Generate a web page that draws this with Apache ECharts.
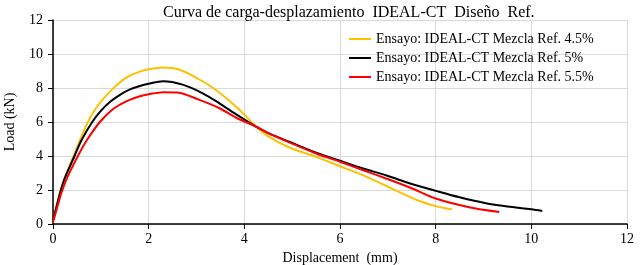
<!DOCTYPE html>
<html>
<head>
<meta charset="utf-8">
<script src="https://cdn.jsdelivr.net/npm/echarts@6/dist/echarts.min.js"></script>
<style>html,body{margin:0;padding:0;background:#fff;}#c{width:640px;height:265px;}</style>
</head>
<body>
<div id="c"></div>
<script>
var titleText = 'Curva de carga-desplazamiento  IDEAL-CT  Diseño  Ref.';
var xName = 'Displacement  (mm)';
var yName = 'Load (kN)';
var seriesNames = ['Ensayo: IDEAL-CT Mezcla Ref. 4.5%', 'Ensayo: IDEAL-CT Mezcla Ref. 5%', 'Ensayo: IDEAL-CT Mezcla Ref. 5.5%'];
var seriesColors = ['#FFC000', '#000000', '#FF0000'];

var ref45 = [[0,0.2],[0.04,0.65],[0.08,1.1],[0.12,1.55],[0.16,1.95],[0.22,2.5],[0.3,3.1],[0.43,4.0],[0.55,4.85],[0.73,6.0],[0.85,6.6],[1.0,7.2],[1.25,7.95],[1.45,8.45],[1.6,8.72],[1.8,8.95],[2.0,9.1],[2.3,9.2],[2.65,9.07],[3.06,8.5],[3.4,7.9],[3.83,6.9],[4.25,5.72],[4.5,5.15],[4.94,4.5],[5.5,3.95],[6.0,3.4],[6.5,2.85],[6.96,2.25],[7.3,1.8],[7.66,1.35],[8.0,1.05],[8.34,0.86]];
var ref5 = [[0,0.2],[0.04,0.65],[0.08,1.1],[0.12,1.55],[0.16,1.95],[0.22,2.5],[0.3,3.05],[0.45,4.0],[0.59,4.9],[0.82,6.0],[1.0,6.65],[1.2,7.2],[1.4,7.6],[1.6,7.9],[1.8,8.1],[2.0,8.25],[2.3,8.4],[2.71,8.2],[3.13,7.69],[3.48,7.1],[3.83,6.45],[4.25,5.72],[4.5,5.35],[4.94,4.84],[5.5,4.2],[6.0,3.72],[6.5,3.25],[6.96,2.87],[7.5,2.35],[8.0,1.95],[8.5,1.57],[9.05,1.22],[9.5,1.03],[10.0,0.87],[10.23,0.77]];
var ref55 = [[0,0.1],[0.05,0.6],[0.1,1.1],[0.15,1.6],[0.19,1.95],[0.27,2.55],[0.35,3.05],[0.52,4.0],[0.7,4.9],[0.98,6.0],[1.25,6.75],[1.45,7.1],[1.6,7.3],[1.8,7.5],[2.0,7.63],[2.3,7.75],[2.6,7.73],[3.06,7.3],[3.48,6.81],[3.83,6.25],[4.25,5.72],[4.5,5.35],[4.94,4.8],[5.5,4.15],[6.0,3.66],[6.5,3.15],[6.96,2.68],[7.5,2.1],[8.0,1.5],[8.7,0.99],[9.33,0.71]];
var seriesData = [ref45, ref5, ref55];

var serif = '"Liberation Serif", "Times New Roman", serif';
var chart = echarts.init(document.getElementById('c'), null, {renderer: 'canvas'});
chart.setOption({
  animation: false,
  backgroundColor: '#fff',
  title: {
    text: titleText, left: 158, top: 0,
    textStyle: {fontFamily: serif, fontSize: 16, fontWeight: 'normal', color: '#000'}
  },
  legend: {
    orient: 'vertical', left: 344, top: 27,
    itemWidth: 22, itemHeight: 2, itemGap: 5,
    icon: 'rect',
    textStyle: {fontFamily: serif, fontSize: 14, color: '#000', lineHeight: 14},
    data: seriesNames
  },
  grid: {left: 53, right: 13, top: 20, bottom: 41, containLabel: false, outerBoundsMode: 'none'},
  xAxis: {
    type: 'value', min: 0, max: 12, interval: 2,
    name: xName, nameLocation: 'middle', nameGap: 19,
    nameTextStyle: {fontFamily: serif, fontSize: 14, color: '#000'},
    axisLine: {show: true, lineStyle: {color: '#000', width: 1.5}},
    axisTick: {show: true, inside: false, length: 5, lineStyle: {color: '#000'}},
    axisLabel: {fontFamily: serif, fontSize: 14, color: '#000', margin: 8},
    splitLine: {show: true, lineStyle: {color: '#d9d9d9', width: 1}}
  },
  yAxis: {
    type: 'value', min: 0, max: 12, interval: 2,
    name: yName, nameLocation: 'middle', nameGap: 36,
    nameTextStyle: {fontFamily: serif, fontSize: 14, color: '#000'},
    axisLine: {show: true, lineStyle: {color: '#000', width: 1.5}},
    axisTick: {show: true, inside: false, length: 5, lineStyle: {color: '#000'}},
    axisLabel: {fontFamily: serif, fontSize: 14, color: '#000', margin: 10},
    splitLine: {show: true, lineStyle: {color: '#d9d9d9', width: 1}}
  },
  series: seriesNames.map(function (n, i) {
    return {
      name: n, type: 'line', data: seriesData[i], showSymbol: false, symbol: 'none',
      smooth: 0.3,
      lineStyle: {color: seriesColors[i], width: 2},
      itemStyle: {color: seriesColors[i]}
    };
  })
});
</script>
</body>
</html>
